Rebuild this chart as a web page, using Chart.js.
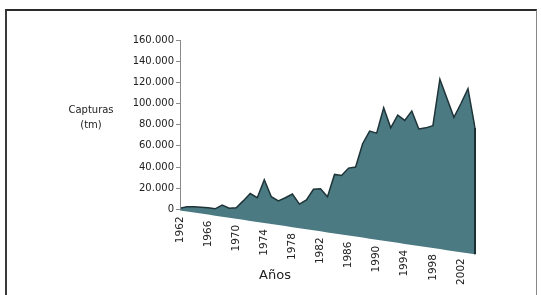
<!DOCTYPE html>
<html>
<head>
<meta charset="utf-8">
<script src="https://cdn.jsdelivr.net/npm/chart.js@4/dist/chart.umd.min.js"></script>
<style>
  html, body { margin: 0; padding: 0; background: #fff; }
  #wrap { position: relative; width: 541px; height: 295px; overflow: hidden; }
  #frame {
    position: absolute; left: 5px; top: 9px; width: 529px; height: 300px;
    border-left: 2px solid #3a3a3a; border-top: 2px solid #2a2a2a; border-right: 1px solid #888;
    pointer-events: none;
  }
  canvas { position: absolute; left: 0; top: 0; }
</style>
</head>
<body>
<div id="wrap">
  <canvas id="chart" width="541" height="295"></canvas>
  <div id="frame"></div>
</div>
<script>
// years on the x axis (one point per year)
const years = [];
for (let y = 1962; y <= 2004; y++) years.push(String(y));

// catches in tonnes
const capturas = [
  1000, 2500, 2500, 2000, 1500, 500, 4000, 1000, 1500, 8000,
  15000, 11000, 28000, 12000, 8000, 11000, 14500, 5000, 9000, 19000,
  19500, 12000, 33000, 32000, 39000, 40000, 62000, 74000, 72000, 96000,
  77000, 89000, 84000, 93000, 76000, 77000, 79000, 123000, 105000, 87000,
  100000, 114000, 77000
];

// labels shown under the sloped floor
const shownYears = ['1962', '1966', '1970', '1974', '1978', '1982', '1986', '1990', '1994', '1998', '2002'];

const yTicks = [0, 20000, 40000, 60000, 80000, 100000, 120000, 140000, 160000];

// 3d perspective: the floor of the area drops towards the right
const floorStart = -1000;
const floorEnd = -42500;
const floor = years.map((_, i) => floorStart + (floorEnd - floorStart) * i / (years.length - 1));

const fmt = v => String(v).replace(/\B(?=(\d{3})+(?!\d))/g, '.');

const decor = {
  id: 'decor',
  afterDraw(chart) {
    const ctx = chart.ctx;
    const xs = chart.scales.x;
    const ys = chart.scales.y;
    const left = chart.chartArea.left;
    ctx.save();

    // y axis line from 0 to max
    ctx.strokeStyle = '#8a8a8a';
    ctx.lineWidth = 1;
    ctx.beginPath();
    ctx.moveTo(left + 0.5, ys.getPixelForValue(160000));
    ctx.lineTo(left + 0.5, ys.getPixelForValue(0));
    ctx.stroke();

    // dark side edge at the last year
    const last = years.length - 1;
    ctx.strokeStyle = '#1c2f33';
    ctx.lineWidth = 2;
    ctx.beginPath();
    ctx.moveTo(xs.getPixelForValue(last), ys.getPixelForValue(capturas[last]));
    ctx.lineTo(xs.getPixelForValue(last), ys.getPixelForValue(floor[last]));
    ctx.stroke();

    // year labels follow the sloped floor
    ctx.fillStyle = '#222';
    ctx.font = '10.5px "DejaVu Sans", Verdana, sans-serif';
    ctx.textAlign = 'right';
    ctx.textBaseline = 'middle';
    shownYears.forEach(lbl => {
      const i = years.indexOf(lbl);
      const x = xs.getPixelForValue(i);
      const y = ys.getPixelForValue(floor[i]) + 6;
      ctx.save();
      ctx.translate(x, y);
      ctx.rotate(-Math.PI / 2);
      ctx.fillText(lbl, 0, 0);
      ctx.restore();
    });

    // axis titles
    ctx.textAlign = 'center';
    ctx.textBaseline = 'middle';
    ctx.font = '10px "DejaVu Sans", Verdana, sans-serif';
    ctx.fillText('Capturas', 91, 110);
    ctx.fillText('(tm)', 91, 125);
    ctx.font = '13px "DejaVu Sans", Verdana, sans-serif';
    ctx.fillText('Años', 275, 276);
    ctx.restore();
  }
};

new Chart(document.getElementById('chart'), {
  type: 'line',
  data: {
    labels: years,
    datasets: [
      {
        label: 'Capturas',
        data: capturas,
        borderColor: '#1f3438',
        borderWidth: 1.5,
        backgroundColor: '#4b7a83',
        fill: '+1',
        pointRadius: 0,
        tension: 0
      },
      {
        label: 'suelo',
        data: floor,
        borderWidth: 0,
        borderColor: 'rgba(0,0,0,0)',
        pointRadius: 0,
        fill: false
      }
    ]
  },
  options: {
    responsive: false,
    animation: false,
    layout: { padding: { left: 0, right: 66, top: 40, bottom: 38 } },
    plugins: {
      legend: { display: false },
      tooltip: { enabled: false }
    },
    scales: {
      x: { display: false, offset: false },
      y: {
        min: -45000,
        max: 160000,
        afterFit: s => { s.width = 180; },
        afterBuildTicks: s => { s.ticks = yTicks.map(v => ({ value: v })); },
        border: { display: false },
        grid: {
          drawOnChartArea: false,
          drawTicks: true,
          tickLength: 4,
          color: '#8a8a8a'
        },
        ticks: {
          color: '#222',
          padding: 2,
          font: { family: '"DejaVu Sans", Verdana, sans-serif', size: 10 },
          callback: v => fmt(v)
        }
      }
    }
  },
  plugins: [decor]
});
</script>
</body>
</html>
